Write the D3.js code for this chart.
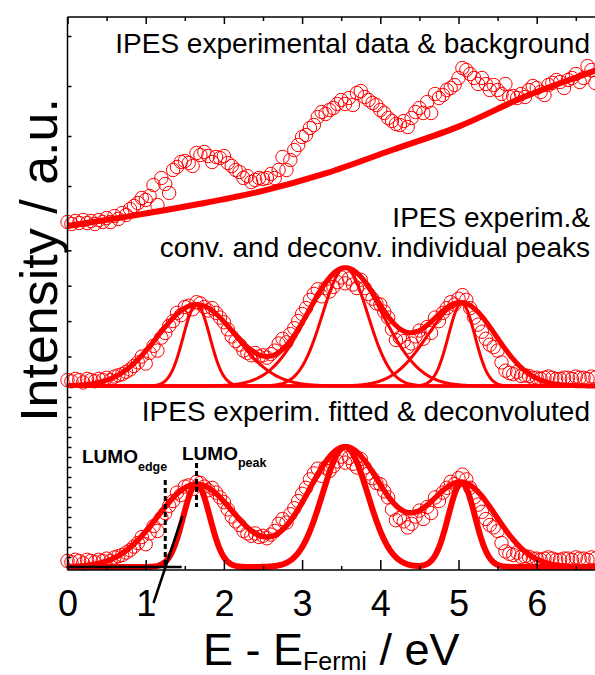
<!DOCTYPE html>
<html><head><meta charset="utf-8">
<script src="https://cdn.jsdelivr.net/npm/d3@7"></script>
<style>
body{margin:0;background:#fff}
svg{display:block}
text{font-family:"Liberation Sans",Arial,Helvetica,sans-serif}
</style>
</head><body>
<svg id="chart" width="595" height="675"></svg>
<script>
// ---------------- DATA ----------------
// measurement grid: 0.00 ... 6.75 eV, 0.05 eV step
const energies = d3.range(136).map(i => +(i * 0.05).toFixed(2));

// top panel: raw IPES intensity (arb. units)
const rawIntensity = [
  1.20,1.10,1.25,1.15,1.30,1.15,1.25,1.10,1.30,1.20,
  1.40,1.20,1.50,1.35,1.65,1.55,1.85,2.00,2.15,2.40,
  2.30,2.50,3.05,2.05,3.40,3.10,2.65,3.80,3.95,4.20,
  4.25,4.15,4.00,4.65,4.55,4.70,4.50,4.20,4.45,4.40,
  4.50,4.15,4.00,3.80,3.70,3.40,3.50,3.20,3.30,3.40,
  3.35,3.40,3.60,3.40,3.80,4.45,3.80,4.30,4.80,5.05,
  5.45,5.55,5.90,6.05,6.45,6.70,6.60,6.80,6.90,7.10,
  7.30,7.10,7.40,7.05,7.65,7.75,7.45,7.30,7.15,7.05,
  6.80,6.65,6.40,6.25,6.10,6.05,6.25,5.95,6.40,6.70,
  6.90,6.65,7.20,6.65,7.60,7.40,7.55,7.80,7.90,8.05,
  8.40,8.90,8.80,8.60,8.40,8.10,8.40,8.10,7.80,8.05,
  7.80,7.60,8.10,7.45,7.50,7.40,7.60,7.45,7.80,8.00,
  7.90,7.70,7.55,8.05,8.15,8.30,8.20,7.90,8.30,8.40,
  8.60,8.20,8.40,9.00,8.80,8.15
];

// background curve (top panel)
const bgEnergy    = [0, 0.76, 1.61, 2.46, 3.31, 4.15, 5.0, 5.85, 6.71, 6.8];
const bgIntensity = [1.0, 1.47, 2.05, 2.72, 3.64, 4.80, 5.97, 7.47, 8.72, 8.85];

// background-subtracted, normalised intensity (middle & bottom panels)
const normIntensity = [
  0.05,0.04,0.06,0.05,0.03,0.06,0.05,0.04,0.06,0.05,
  0.07,0.05,0.08,0.09,0.10,0.12,0.14,0.17,0.20,0.25,
  0.19,0.28,0.34,0.30,0.41,0.45,0.51,0.55,0.62,0.60,
  0.67,0.68,0.65,0.71,0.70,0.67,0.64,0.66,0.62,0.58,
  0.54,0.48,0.42,0.38,0.35,0.30,0.28,0.26,0.28,0.25,
  0.26,0.24,0.27,0.30,0.36,0.40,0.37,0.44,0.49,0.55,
  0.61,0.66,0.73,0.78,0.82,0.76,0.83,0.80,0.84,0.88,
  0.92,0.87,0.91,0.86,0.83,0.90,0.83,0.78,0.74,0.70,
  0.69,0.63,0.58,0.48,0.39,0.41,0.38,0.33,0.36,0.42,
  0.47,0.40,0.50,0.45,0.58,0.55,0.62,0.66,0.71,0.69,
  0.74,0.77,0.73,0.66,0.58,0.52,0.46,0.40,0.35,0.33,
  0.30,0.20,0.13,0.11,0.10,0.12,0.085,0.09,0.085,0.07,
  0.07,0.06,0.07,0.08,0.07,0.06,0.06,0.07,0.07,0.06,
  0.08,0.07,0.07,0.06,0.08,0.07
];

// fitted Gaussian peaks
const peakCenters   = [1.65, 3.55, 5.04];
const broadHeights  = [0.69, 1.00, 0.70];   // convoluted
const broadSigmas   = [0.50, 0.48, 0.44];
const narrowHeights = [0.69, 1.00, 0.70];   // deconvoluted
const narrowSigmas  = [0.17, 0.29, 0.17];

// LUMO construction (bottom panel)
const lumoEdge = 1.25, lumoPeak = 1.65;
const baselineSeg = [[0.0, 0.0], [1.46, 0.0]];
const tangentSeg  = [[1.10, -0.30], [1.47, 0.425]];

const xTickLabels = [0, 1, 2, 3, 4, 5, 6];
const panelLabels = {
  top: ["IPES experimental data & background"],
  mid: ["IPES experim.&", "conv. and deconv. individual peaks"],
  bot: ["IPES experim. fitted & deconvoluted"]
};

// ---------------- SCALES ----------------
const svg = d3.select("#chart");
const RED = "#ff0000";
const x = d3.scaleLinear().domain([0, 6.8]).range([67.5, 67.5 + 78.2 * 6.8]);
const yTop = d3.scaleLinear().domain([0, 11.45]).range([246, 17]);
const yMid = d3.scaleLinear().domain([0, 1]).range([386, 268]);
const yBot = d3.scaleLinear().domain([0, 1]).range([567, 447]);

const gauss = (e, c, h, s) => h * Math.exp(-((e - c) ** 2) / (2 * s * s));
const fineE = d3.range(0, 6.801, 0.01);
const broadSum = e => d3.sum(peakCenters, (c, i) => gauss(e, c, broadHeights[i], broadSigmas[i]));
const narrowSum = e => d3.sum(peakCenters, (c, i) => gauss(e, c, narrowHeights[i], narrowSigmas[i]));

// ---------------- DATA CIRCLES ----------------
function circles(vals, ys) {
  svg.append("g").selectAll("circle").data(energies).join("circle")
    .attr("cx", d => x(d)).attr("cy", (d, i) => ys(vals[i]))
    .attr("r", 6.7).attr("fill", "none").attr("stroke", RED).attr("stroke-width", 1);
}
circles(rawIntensity, yTop);
circles(normIntensity, yMid);
circles(normIntensity, yBot);

function curve(fn, ys, w) {
  svg.append("path").datum(fineE)
    .attr("d", d3.line().x(e => x(e)).y(e => ys(fn(e))))
    .attr("fill", "none").attr("stroke", RED).attr("stroke-width", w)
    .attr("stroke-linejoin", "round");
}

// top: background
svg.append("path").datum(bgEnergy)
  .attr("d", d3.line().x(e => x(e)).y((e, i) => yTop(bgIntensity[i])).curve(d3.curveMonotoneX))
  .attr("fill", "none").attr("stroke", RED).attr("stroke-width", 6);

// middle: individual peaks + envelope
peakCenters.forEach((c, i) => {
  curve(e => gauss(e, c, broadHeights[i], broadSigmas[i]), yMid, 3);
  curve(e => gauss(e, c, narrowHeights[i], narrowSigmas[i]), yMid, 3);
});
curve(broadSum, yMid, 5);

// bottom: fit envelope and deconvoluted sum
curve(broadSum, yBot, 5.5);
curve(narrowSum, yBot, 6);

// ---------------- AXES ----------------
const axG = svg.append("g").attr("stroke", "#000");
axG.append("line").attr("x1", x(0)).attr("x2", x(0)).attr("y1", 17).attr("y2", 570)
  .attr("stroke-width", 1.5);
axG.append("line").attr("x1", x(0)).attr("x2", 595).attr("y1", 17).attr("y2", 17)
  .attr("stroke-width", 1.5);
axG.append("line").attr("x1", x(0)).attr("x2", 595).attr("y1", 570).attr("y2", 570)
  .attr("stroke-width", 1.5);

function styleAxis(g) {
  g.select(".domain").remove();
  g.selectAll(".tick line").attr("stroke", "#000").attr("stroke-width", 1.5);
}
const minorX = d3.range(0.5, 6.8, 1);
svg.append("g").attr("transform", "translate(0,17)")
  .call(d3.axisTop(x).tickValues(xTickLabels).tickSize(-7).tickFormat(""))
  .call(styleAxis);
svg.append("g").attr("transform", "translate(0,17)")
  .call(d3.axisTop(x).tickValues(minorX).tickSize(-4).tickFormat(""))
  .call(styleAxis);
svg.append("g").attr("transform", "translate(0,570)")
  .call(d3.axisBottom(x).tickValues(xTickLabels).tickSize(-10).tickPadding(20.4).tickFormat(d3.format("d")))
  .call(styleAxis)
  .call(g => g.selectAll("text").attr("fill", "#000").style("font-size", "36px")
    .style("font-family", '"Liberation Sans",Arial,sans-serif'));
svg.append("g").attr("transform", "translate(0,570)")
  .call(d3.axisBottom(x).tickValues(minorX).tickSize(-4).tickFormat(""))
  .call(styleAxis);

const leftTicks = [
  [yTop, [3, 5.5, 8, 10.5]],
  [yMid, [0.25, 0.55, 0.85, 1.15]],
  [yBot, d3.range(1, 18).map(i => i / 12)]
];
leftTicks.forEach(([sc, vals]) => {
  svg.append("g").attr("transform", `translate(${x(0)},0)`)
    .call(d3.axisLeft(sc).tickValues(vals).tickSize(-4).tickFormat(""))
    .call(styleAxis);
});

// ---------------- ANNOTATIONS ----------------
const ann = svg.append("g").attr("stroke", "#000").attr("fill", "none");
ann.append("line").attr("x1", x(lumoEdge)).attr("x2", x(lumoEdge))
  .attr("y1", 480).attr("y2", yBot(0)).attr("stroke-width", 3).attr("stroke-dasharray", "5,3");
ann.append("line").attr("x1", x(lumoPeak)).attr("x2", x(lumoPeak))
  .attr("y1", 463).attr("y2", 507).attr("stroke-width", 3).attr("stroke-dasharray", "5,3");
const segLine = d3.line().x(d => x(d[0])).y(d => yBot(d[1]));
ann.append("path").attr("d", segLine(baselineSeg)).attr("stroke-width", 2.5);
ann.append("path").attr("d", segLine(tangentSeg)).attr("stroke-width", 2.5);

function lumoLabel(xp, yb, sub, subDy) {
  const t = svg.append("text").attr("x", xp).attr("y", yb)
    .style("font-weight", "bold").style("font-size", "19px").attr("fill", "#000");
  t.append("tspan").text("LUMO");
  t.append("tspan").attr("dy", subDy).style("font-size", "12.5px").text(sub);
}
lumoLabel(82, 463, "edge", 8);
lumoLabel(182, 460, "peak", 7);

const lab = (txt, yb) => svg.append("text").attr("x", 590).attr("y", yb)
  .attr("text-anchor", "end").style("font-size", "28px").attr("fill", "#000").text(txt);
lab(panelLabels.top[0], 53);
lab(panelLabels.mid[0], 227);
lab(panelLabels.mid[1], 257);
lab(panelLabels.bot[0], 421);

// axis titles
const xt = svg.append("text").attr("x", 203).attr("y", 665).style("font-size", "45px").attr("fill", "#000");
xt.append("tspan").text("E - E");
xt.append("tspan").attr("dy", 5).style("font-size", "25px").text("Fermi");
xt.append("tspan").attr("dy", -5).text(" / eV");

svg.append("text").attr("transform", "translate(57,260) rotate(-90)")
  .attr("text-anchor", "middle").style("font-size", "52px").attr("fill", "#000")
  .text("Intensity / a.u.");
</script>
</body></html>
